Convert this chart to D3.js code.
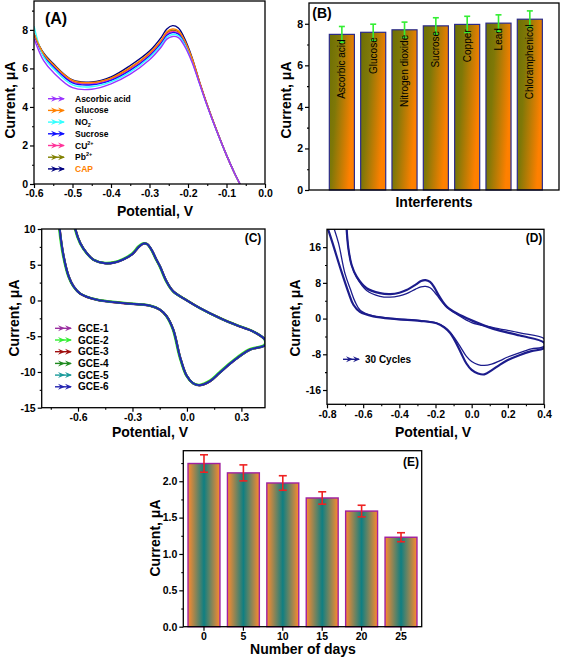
<!DOCTYPE html>
<html>
<head>
<meta charset="utf-8">
<script src="https://cdn.jsdelivr.net/npm/d3@7"></script>
<style>
  body { margin: 0; background: #fff; }
  svg { display: block; font-family: "Liberation Sans", Arial, sans-serif; }
</style>
</head>
<body>
<svg id="fig" width="562" height="658"></svg>
<script>
// ---------- data ----------
// (A) LSV responses with interferents
const potA = [-0.6, -0.575, -0.55, -0.5, -0.45, -0.4, -0.35, -0.3, -0.27, -0.255, -0.24, -0.225, -0.21, -0.19, -0.17, -0.15, -0.125, -0.1, -0.08, -0.065];
const ascorbicA = [7.55, 6.4, 5.8, 5.0, 4.92, 5.2, 5.7, 6.45, 7.1, 7.52, 7.66, 7.6, 7.2, 6.35, 5.2, 4.05, 2.72, 1.5, 0.6, 0];
const glucoseA  = [7.8, 6.75, 6.2, 5.38, 5.27, 5.5, 6.05, 6.8, 7.45, 7.9, 8.05, 7.95, 7.5, 6.55, 5.3, 4.1, 2.75, 1.5, 0.6, 0];
const no2A      = [8.2, 6.6, 6.0, 5.15, 5.05, 5.3, 5.82, 6.57, 7.2, 7.62, 7.76, 7.7, 7.3, 6.4, 5.22, 4.06, 2.73, 1.5, 0.6, 0];
const sucroseA  = [7.8, 6.65, 6.1, 5.25, 5.15, 5.38, 5.9, 6.65, 7.3, 7.72, 7.86, 7.78, 7.36, 6.45, 5.25, 4.08, 2.74, 1.5, 0.6, 0];
const copperA   = [7.8, 6.7, 6.15, 5.3, 5.2, 5.42, 5.95, 6.7, 7.35, 7.78, 7.92, 7.84, 7.4, 6.48, 5.27, 4.1, 2.75, 1.5, 0.6, 0];
const leadA     = [7.8, 6.75, 6.2, 5.36, 5.25, 5.48, 6.02, 6.76, 7.4, 7.85, 7.98, 7.9, 7.45, 6.5, 5.28, 4.1, 2.75, 1.5, 0.6, 0];
const capA      = [7.75, 6.8, 6.25, 5.4, 5.3, 5.56, 6.15, 6.9, 7.6, 8.05, 8.22, 8.1, 7.6, 6.6, 5.3, 4.1, 2.75, 1.5, 0.6, 0];

// (B) interferent bar chart
const interferents = ["Ascorbic acid", "Glucose", "Nitrogen dioxide", "Sucrose", "Copper", "Lead", "Chloramphenicol"];
const currentB = [7.49, 7.59, 7.71, 7.9, 7.97, 8.03, 8.22];
const errorB = [0.38, 0.39, 0.37, 0.39, 0.39, 0.4, 0.4];

// (C) CV of six electrodes (curves coincide)
const gceNames = ["GCE-1", "GCE-2", "GCE-3", "GCE-4", "GCE-5", "GCE-6"];
const potC = [-0.622, -0.615, -0.587, -0.551, -0.514, -0.45, -0.4, -0.35, -0.3, -0.265, -0.24, -0.22, -0.195, -0.17, -0.148, -0.112, -0.075, 0, 0.071, 0.181, 0.291, 0.364, 0.43,
              0.43, 0.346, 0.254, 0.181, 0.127, 0.071, 0.035, -0.002, -0.038, -0.075, -0.112, -0.148, -0.203, -0.35, -0.496, -0.587, -0.624, -0.651, -0.679, -0.701, -0.704];
const curC = [11, 10.0, 8.0, 6.6, 5.68, 5.2, 5.3, 5.75, 6.5, 7.5, 7.95, 7.9, 7.1, 5.8, 4.75, 2.65, 1.26, 0.0, -1.06, -2.46, -3.63, -4.33, -5.5,
              -6.25, -6.9, -8.5, -10.1, -11.3, -11.85, -11.6, -10.5, -7.9, -4.1, -2.2, -1.3, -0.74, -0.37, 0.1, 0.94, 1.96, 3.35, 6.15, 10.0, 11];

// (D) 30 cycles: later cycles (outer) and first cycle (inner)
const potDOuter = [-0.693, -0.682, -0.664, -0.636, -0.581, -0.507, -0.45, -0.4, -0.36, -0.31, -0.28, -0.255, -0.23, -0.205, -0.184, -0.16, -0.138, -0.083, 0.0, 0.12, 0.267, 0.4,
                   0.4, 0.33, 0.267, 0.2, 0.157, 0.11, 0.07, 0.035, 0.0, -0.03, -0.06, -0.092, -0.12, -0.15, -0.194, -0.286, -0.415, -0.544, -0.618, -0.654, -0.68, -0.72, -0.77, -0.802];
const curDOuter = [21, 15.8, 12.0, 9.4, 6.8, 5.7, 5.5, 5.8, 6.4, 7.6, 8.4, 8.6, 8.2, 6.9, 5.3, 3.8, 2.7, 1.2, -0.4, -2.3, -3.8, -5.4,
                   -6.6, -7.3, -8.15, -9.3, -10.3, -11.6, -12.5, -12.3, -11.5, -10.0, -7.6, -5.0, -3.2, -2.0, -1.05, -0.5, -0.1, 0.5, 1.5, 3.1, 5.7, 10.5, 17.0, 21];
const potDInner = [-0.693, -0.682, -0.664, -0.636, -0.581, -0.507, -0.45, -0.4, -0.36, -0.31, -0.28, -0.255, -0.23, -0.205, -0.184, -0.16, -0.138, -0.083, 0.0, 0.12, 0.267, 0.4,
                   0.4, 0.33, 0.267, 0.2, 0.157, 0.11, 0.07, 0.035, 0.0, -0.03, -0.06, -0.092, -0.12, -0.15, -0.194, -0.286, -0.415, -0.544, -0.615, -0.645, -0.67, -0.7, -0.737, -0.768];
const curDInner = [21, 15.8, 12.0, 9.2, 6.3, 5.0, 4.8, 5.1, 5.6, 6.6, 7.1, 7.2, 6.9, 5.9, 4.8, 3.5, 2.5, 1.0, -0.9, -2.0, -3.2, -4.5,
                   -6.2, -6.8, -7.6, -8.6, -9.4, -10.2, -10.5, -10.3, -9.6, -8.4, -6.5, -4.5, -3.0, -1.9, -1.0, -0.45, -0.05, 0.6, 1.8, 3.8, 6.5, 10.0, 17.0, 21];

// (E) stability over days
const days = [0, 5, 10, 15, 20, 25];
const currentE = [2.244, 2.115, 1.976, 1.77, 1.59, 1.23];
const errorE = [0.12, 0.11, 0.1, 0.085, 0.08, 0.062];

// ---------- helpers ----------
const FONT = '"Liberation Sans", Arial, sans-serif';
const svg = d3.select("#fig");
const defs = svg.append("defs");

function clip(id, x, y) {
  const [l, r] = x.range(), [b, t] = y.range();
  defs.append("clipPath").attr("id", id).append("rect")
    .attr("x", l).attr("y", t).attr("width", r - l).attr("height", b - t);
  return `url(#${id})`;
}

function addTicks(g, axis, tr, major, minor, fmt) {
  if (minor) {
    const m = g.append("g").attr("transform", tr)
      .call(axis.tickValues(minor).tickSize(2).tickSizeOuter(0).tickFormat(""));
    m.select(".domain").remove();
    m.selectAll("line").attr("stroke-width", 1.1);
  }
  const a = g.append("g").attr("transform", tr)
    .call(axis.tickValues(major).tickSize(4).tickSizeOuter(0).tickPadding(2).tickFormat(fmt));
  a.select(".domain").remove();
  a.selectAll("line").attr("stroke-width", 1.2);
  a.selectAll("text").attr("font-family", FONT).attr("font-size", 10.5)
    .attr("font-weight", "bold").attr("fill", "#000");
}

function frame(g, x, y, o) {
  const [l, r] = x.range(), [b, t] = y.range();
  if (o.xTicks) addTicks(g, d3.axisBottom(x), `translate(0,${b})`, o.xTicks, o.xMinor, o.xFmt);
  addTicks(g, d3.axisLeft(y), `translate(${l},0)`, o.yTicks, o.yMinor, o.yFmt);
  g.append("rect").attr("x", l).attr("y", t).attr("width", r - l).attr("height", b - t)
    .attr("fill", "none").attr("stroke", "#000").attr("stroke-width", 1.3);
}

function text(g, x, y, s, size, opts = {}) {
  const t = g.append("text").attr("x", x).attr("y", y).text(s)
    .attr("font-family", FONT).attr("font-size", size)
    .attr("font-weight", opts.weight || "bold")
    .attr("text-anchor", opts.anchor || "middle")
    .attr("fill", opts.fill || "#000");
  if (opts.rotate) t.attr("transform", `rotate(${opts.rotate},${x},${y})`);
  return t;
}

function arrowSym(g, x, y, color) {
  g.append("path").attr("d", `M${x},${y}H${x + 16}`).attr("stroke", color).attr("stroke-width", 1.4);
  [x + 3, x + 10].forEach(ax => g.append("path")
    .attr("d", `M${ax},${y - 3}L${ax + 7},${y}L${ax},${y + 3}L${ax + 2.5},${y}Z`).attr("fill", color));
}

const f1 = d => d.toFixed(1);
const f0 = d => String(d);

// ---------- (A) ----------
{
  const g = svg.append("g");
  const x = d3.scaleLinear([-0.6, 0], [34, 265]);
  const y = d3.scaleLinear([0, 9.5], [184, 1]);
  const series = [
    { name: "Ascorbic acid", color: "#9a33ff", vals: ascorbicA },
    { name: "Glucose", color: "#ff8000", vals: glucoseA },
    { name: "NO2-", color: "#33ffff", vals: no2A },
    { name: "Sucrose", color: "#1010ff", vals: sucroseA },
    { name: "CU2+", color: "#ff3399", vals: copperA },
    { name: "Pb2+", color: "#808000", vals: leadA },
    { name: "CAP", color: "#000080", vals: capA }
  ];
  const line = d3.line().x((d, i) => x(potA[i])).y(d => y(d)).curve(d3.curveCatmullRom.alpha(0.5));
  const cp = clip("clipA", x, y);
  g.append("g").attr("clip-path", cp).selectAll("path")
    .data(series.slice().reverse()).join("path")
    .attr("d", d => line(d.vals)).attr("fill", "none")
    .attr("stroke", d => d.color).attr("stroke-width", 1.4);
  frame(g, x, y, {
    xTicks: d3.range(-6, 1).map(v => v / 10), xMinor: d3.range(-55, 0, 10).map(v => v / 100), xFmt: f1,
    yTicks: [0, 2, 4, 6, 8], yMinor: [1, 3, 5, 7, 9], yFmt: f0
  });
  text(g, 56, 24, "(A)", 16);
  text(g, 155, 216, "Potential, V", 14);
  text(g, 15, 100, "Current, \u03bcA", 14, { rotate: -90 });
  // legend
  series.forEach((s, i) => {
    const ly = 98.7 + i * 11.7;
    arrowSym(g, 48, ly, s.color);
    const t = g.append("text").attr("x", 75).attr("y", ly + 3)
      .attr("font-family", FONT).attr("font-size", 8.5).attr("font-weight", "bold")
      .attr("fill", s.name === "CAP" ? "#ff8000" : "#000");
    if (s.name === "NO2-") {
      t.append("tspan").text("NO");
      t.append("tspan").text("2").attr("font-size", 5.5).attr("dy", 2);
      t.append("tspan").text("-").attr("font-size", 5.5).attr("dy", -6);
    } else if (s.name === "CU2+" || s.name === "Pb2+") {
      t.append("tspan").text(s.name.slice(0, 2));
      t.append("tspan").text("2+").attr("font-size", 5.5).attr("dy", -4);
    } else {
      t.text(s.name);
    }
  });
}

// ---------- (B) ----------
{
  const g = svg.append("g");
  const x = d3.scaleBand(interferents, [309, 559]).paddingInner(0.2).paddingOuter(0.59).align(0.55);
  const y = d3.scaleLinear([0, 9], [190, 3]);
  const grad = defs.append("linearGradient").attr("id", "gradB")
    .attr("x1", 0).attr("y1", 0).attr("x2", 1).attr("y2", 0.35);
  grad.append("stop").attr("offset", 0).attr("stop-color", "#6c7004");
  grad.append("stop").attr("offset", 0.35).attr("stop-color", "#7f7808");
  grad.append("stop").attr("offset", 1).attr("stop-color", "#ff8000");
  g.selectAll("rect.bar").data(interferents).join("rect").attr("class", "bar")
    .attr("x", d => x(d)).attr("width", x.bandwidth())
    .attr("y", (d, i) => y(currentB[i])).attr("height", (d, i) => y(0) - y(currentB[i]))
    .attr("fill", "url(#gradB)").attr("stroke", "#2b2b8a").attr("stroke-width", 1.2);
  const eb = g.append("g").attr("stroke", "#33ee33").attr("stroke-width", 1.6);
  interferents.forEach((d, i) => {
    const cx = x(d) + x.bandwidth() / 2, hi = y(currentB[i] + errorB[i]), lo = y(currentB[i] - errorB[i]);
    eb.append("line").attr("x1", cx).attr("x2", cx).attr("y1", hi).attr("y2", lo);
    eb.append("line").attr("x1", cx - 3).attr("x2", cx + 3).attr("y1", hi).attr("y2", hi);
    eb.append("line").attr("x1", cx - 3).attr("x2", cx + 3).attr("y1", lo).attr("y2", lo);
  });
  interferents.forEach((d, i) => {
    const cx = x(d) + x.bandwidth() / 2, ty = y(currentB[i]) + 5;
    text(g, cx, ty, d, 10, { weight: "normal", anchor: "end", rotate: -90 })
      .attr("dy", "0.35em");
  });
  frame(g, x, y, { yTicks: [0, 2, 4, 6, 8], yMinor: [1, 3, 5, 7], yFmt: f0 });
  text(g, 322, 18, "(B)", 14);
  text(g, 434, 207, "Interferents", 14);
  text(g, 291, 100, "Current, \u03bcA", 14, { rotate: -90 });
}

// ---------- (C) ----------
{
  const g = svg.append("g");
  const x = d3.scaleLinear([-0.8, 0.43], [41.7, 265]);
  const y = d3.scaleLinear([-15, 10], [407.7, 229]);
  const colors = ["#9a2fa0", "#33ee33", "#a01010", "#1f8a1f", "#1a9a9a", "#2323b0"];
  const widths = [2.4, 2.3, 2.1, 2.0, 1.9, 1.7];
  const line = d3.line().x((d, i) => x(potC[i])).y(d => y(d)).curve(d3.curveCatmullRom.alpha(0.5));
  const cp = clip("clipC", x, y);
  const lg = g.append("g").attr("clip-path", cp);
  gceNames.forEach((n, k) => {
    lg.append("path").attr("d", line(curC)).attr("fill", "none")
      .attr("stroke", colors[k]).attr("stroke-width", widths[k])
      .attr("transform", k === 1 ? "translate(-0.6,-0.4)" : null);
  });
  frame(g, x, y, {
    xTicks: [-0.6, -0.3, 0, 0.3], xMinor: [-0.75, -0.45, -0.15, 0.15], xFmt: f1,
    yTicks: [-15, -10, -5, 0, 5, 10], yMinor: [-12.5, -7.5, -2.5, 2.5, 7.5], yFmt: f0
  });
  gceNames.forEach((n, k) => {
    const ly = 328.3 + k * 11.7;
    arrowSym(g, 55, ly, colors[k]);
    text(g, 78, ly + 3.6, n, 10, { anchor: "start" });
  });
  text(g, 253, 242, "(C)", 12);
  text(g, 150, 437, "Potential, V", 14);
  text(g, 19, 318, "Current, \u03bcA", 14, { rotate: -90 });
}

// ---------- (D) ----------
{
  const g = svg.append("g");
  const x = d3.scaleLinear([-0.8, 0.4], [327, 544]);
  const y = d3.scaleLinear([-19.2, 20], [404.3, 229.3]);
  const navy = "#1c1c8c";
  const cp = clip("clipD", x, y);
  const lg = g.append("g").attr("clip-path", cp).attr("fill", "none").attr("stroke", navy);
  const lineOuter = d3.line().x((d, i) => x(potDOuter[i])).y(d => y(d)).curve(d3.curveCatmullRom.alpha(0.5));
  const lineInner = d3.line().x((d, i) => x(potDInner[i])).y(d => y(d)).curve(d3.curveCatmullRom.alpha(0.5));
  lg.append("path").attr("d", lineOuter(curDOuter)).attr("stroke-width", 2.2);
  lg.append("path").attr("d", lineInner(curDInner)).attr("stroke-width", 1.3);
  frame(g, x, y, {
    xTicks: [-0.8, -0.6, -0.4, -0.2, 0, 0.2, 0.4], xMinor: [-0.7, -0.5, -0.3, -0.1, 0.1, 0.3], xFmt: f1,
    yTicks: [-16, -8, 0, 8, 16], yMinor: [-12, -4, 4, 12], yFmt: f0
  });
  arrowSym(g, 343, 359.3, navy);
  text(g, 365, 363, "30 Cycles", 10, { anchor: "start" });
  text(g, 534, 242, "(D)", 12);
  text(g, 433, 437, "Potential, V", 14);
  text(g, 300, 318, "Current, \u03bcA", 14, { rotate: -90 });
}

// ---------- (E) ----------
{
  const g = svg.append("g");
  const x = d3.scaleBand(days, [183.3, 421.7]).paddingInner(0.19).paddingOuter(0.12);
  const y = d3.scaleLinear([0, 2.42], [626.7, 450.7]);
  const grad = defs.append("linearGradient").attr("id", "gradE")
    .attr("x1", 0).attr("y1", 0).attr("x2", 1).attr("y2", 0);
  grad.append("stop").attr("offset", 0).attr("stop-color", "#ff8a2e");
  grad.append("stop").attr("offset", 0.5).attr("stop-color", "#0f7f82");
  grad.append("stop").attr("offset", 1).attr("stop-color", "#ff8a2e");
  g.selectAll("rect.bar").data(days).join("rect").attr("class", "bar")
    .attr("x", d => x(d)).attr("width", x.bandwidth())
    .attr("y", (d, i) => y(currentE[i])).attr("height", (d, i) => y(0) - y(currentE[i]))
    .attr("fill", "url(#gradE)").attr("stroke", "#a020a0").attr("stroke-width", 1.4);
  const eb = g.append("g").attr("stroke", "#ee2222").attr("stroke-width", 1.6);
  days.forEach((d, i) => {
    const cx = x(d) + x.bandwidth() / 2, hi = y(currentE[i] + errorE[i]), lo = y(currentE[i] - errorE[i]);
    eb.append("line").attr("x1", cx).attr("x2", cx).attr("y1", hi).attr("y2", lo);
    eb.append("line").attr("x1", cx - 4).attr("x2", cx + 4).attr("y1", hi).attr("y2", hi);
    eb.append("line").attr("x1", cx - 4).attr("x2", cx + 4).attr("y1", lo).attr("y2", lo);
  });
  frame(g, x, y, {
    xTicks: days, xFmt: f0,
    yTicks: [0, 0.5, 1, 1.5, 2], yMinor: [0.25, 0.75, 1.25, 1.75, 2.25], yFmt: f1
  });
  text(g, 411, 466, "(E)", 12);
  text(g, 303, 654, "Number of days", 14);
  text(g, 160, 538, "Current, \u03bcA", 14, { rotate: -90 });
}
</script>
</body>
</html>
